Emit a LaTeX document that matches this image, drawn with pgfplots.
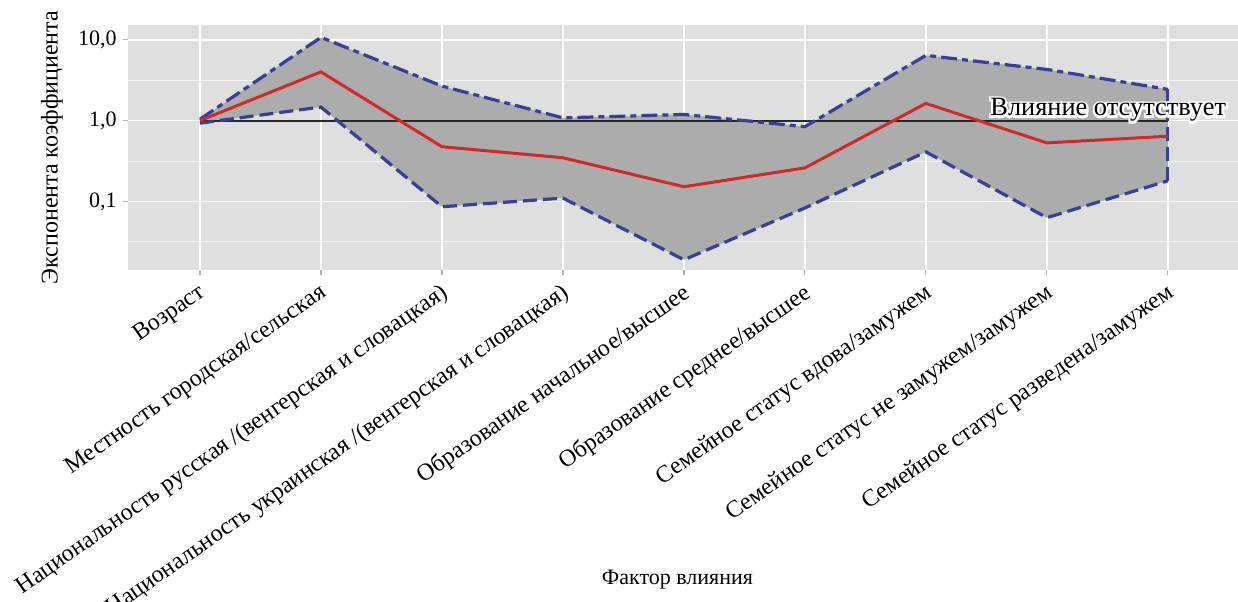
\documentclass[border=0pt]{standalone}
\usepackage{fontspec}
\setmainfont{Liberation Serif}
\usepackage{pgfplots}
\pgfplotsset{compat=1.18}
\usepackage{pgfplotstable}
\usepgfplotslibrary{fillbetween}

\definecolor{panelbg}{RGB}{223,223,223}
\definecolor{ribbon}{RGB}{172,172,172}
\definecolor{bandblue}{RGB}{58,62,150}
\definecolor{medred}{RGB}{212,40,40}
\definecolor{refline}{RGB}{40,40,40}

\pgfplotstableread{
x lo med hi
0 0.93 1.00 1.04
1 1.47 4.00 10.7
2 0.086 0.475 2.67
3 0.11 0.347 1.08
4 0.019 0.152 1.19
5 0.083 0.26 0.84
6 0.41 1.63 6.4
7 0.063 0.53 4.29
8 0.18 0.64 2.43
}\datatab

\begin{document}
\begin{tikzpicture}
\begin{axis}[
  name=ax,
  set layers,
  scale only axis,
  width=555pt, height=122.5pt,
  ymode=log,
  xmin=-0.595, xmax=8.58,
  ymin=0.0142, ymax=15.2,
  axis background/.style={fill=panelbg},
  axis line style={draw=none},
  xtick={0,...,8},
  xticklabels={Возраст,
    Местность городская/сельская,
    Национальность русская /(венгерская и словацкая),
    Национальность украинская /(венгерская и словацкая),
    Образование начальное/высшее,
    Образование среднее/высшее,
    Семейное статус вдова/замужем,
    Семейное статус не замужем/замужем,
    Семейное статус разведена/замужем},
  ytick={0.1,1,10},
  yticklabels={{0,1},{1,0},{10,0}},
  minor ytick={0.0316227766,0.316227766,3.16227766},
  minor tick length=0pt,
  major tick length=2.5pt,
  tick align=outside,
  xtick pos=bottom, ytick pos=left,
  tick style={draw=gray!60, line width=0.6pt},
  grid=both,
  major grid style={draw=white, line width=0.9pt},
  minor grid style={draw=white!100, line width=0.45pt, opacity=0.7},
  xticklabel style={rotate=35, anchor=north east, inner sep=1pt, font=\fontsize{12}{14}\selectfont, yshift=-1pt, xshift=-2pt},
  yticklabel style={font=\fontsize{11}{13}\selectfont, inner sep=1pt, xshift=-2pt},
  xlabel={Фактор влияния},
  ylabel={Экспонента коэффициента},
  every axis x label/.style={at={(axis description cs:0.495,-1.265)}, anchor=center, font=\fontsize{11}{13}\selectfont},
  every axis y label/.style={at={(axis description cs:-0.0685,0.5)}, rotate=90, anchor=center, font=\fontsize{12}{14}\selectfont},
  clip=false,
]
\addplot[name path=up, draw=none, forget plot] table[x=x, y=hi] {\datatab};
\addplot[name path=lo, draw=none, forget plot] table[x=x, y=lo] {\datatab};
\addplot[fill=ribbon, draw=none, forget plot] fill between[of=up and lo];
\addplot[refline, line width=1pt] coordinates {(0,1) (8,1)};
\addplot[bandblue, line width=1.6pt, dash pattern=on 8pt off 2.5pt on 3pt off 2.5pt] table[x=x, y=hi] {\datatab};
\addplot[bandblue, line width=1.6pt, dash pattern=on 7pt off 3pt] table[x=x, y=lo] {\datatab};
\addplot[bandblue, line width=1.6pt, dash pattern=on 7pt off 3pt] coordinates {(8,0.18) (8,2.43)};
\addplot[medred, line width=1.5pt] table[x=x, y=med] {\datatab};
\node[anchor=base west, inner sep=0pt, text=white, font=\fontsize{13.2}{15}\selectfont] at (axis cs:6.53,1.14) {\special{pdf:literal 2 Tr 2.2 w 1 1 1 RG}Влияние отсутствует\special{pdf:literal 0 Tr}};
\node[anchor=base west, inner sep=0pt, font=\fontsize{13.2}{15}\selectfont] at (axis cs:6.53,1.14) {Влияние отсутствует};
\end{axis}
\pgfresetboundingbox
\path ([shift={(-64pt,-165.5pt)}]ax.south west) rectangle ([shift={(0pt,12.5pt)}]ax.north east);
\end{tikzpicture}
\end{document}
